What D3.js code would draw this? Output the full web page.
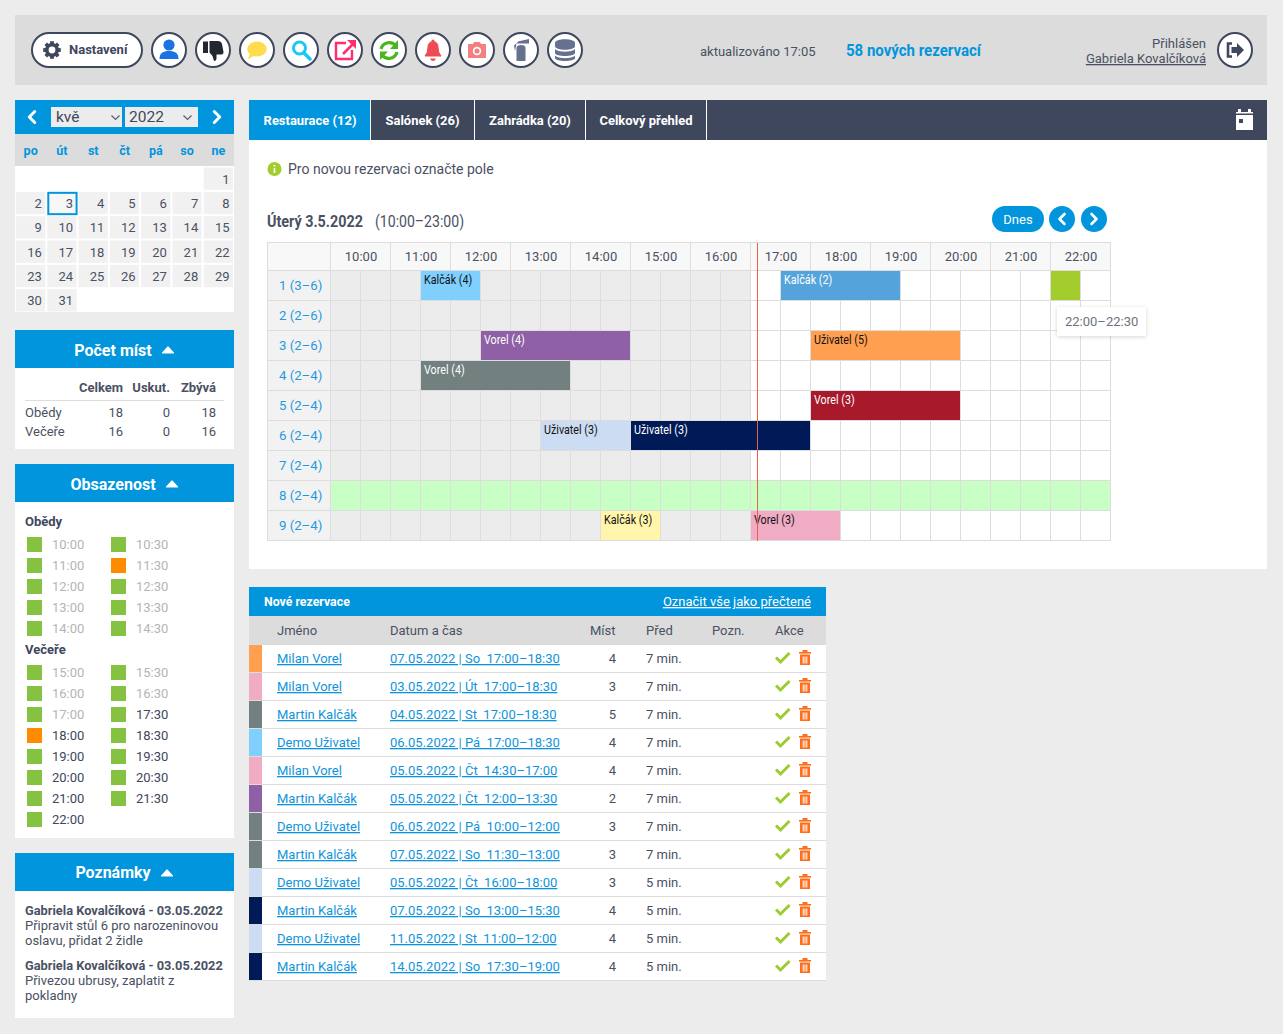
<!DOCTYPE html>
<html lang="cs"><head><meta charset="utf-8"><title>Rezervace</title>
<script src="https://cdnjs.cloudflare.com/ajax/libs/d3/7.8.5/d3.min.js"></script>
<style>html,body{margin:0;padding:0;background:#ececec;overflow:hidden}svg{display:block}text{font-family:Roboto,sans-serif;white-space:pre}</style>
</head><body><script>
// ---------- data ----------
const tabLabels=['Restaurace (12)','Salónek (26)','Zahrádka (20)','Celkový přehled'];
const weekdays=['po','út','st','čt','pá','so','ne'];
const monthDays=d3.range(1,32);
const firstDayOffset=6;
const selectedDay=3;
const seatCols=['Celkem','Uskut.','Zbývá'];
const seatRows=['Obědy','Večeře'];
const seatTotal=[18,16];
const seatDone=[0,0];
const seatLeft=[18,16];
const lunchSlots=['10:00','10:30','11:00','11:30','12:00','12:30','13:00','13:30','14:00','14:30'];
const dinnerSlots=['15:00','15:30','16:00','16:30','17:00','17:30','18:00','18:30','19:00','19:30','20:00','20:30','21:00','21:30','22:00'];
const busySlots=['11:30','18:00'];
const pastUntil='17:30';
const hourLabels=['10:00','11:00','12:00','13:00','14:00','15:00','16:00','17:00','18:00','19:00','20:00','21:00','22:00'];
const tableLabels=['1 (3–6)','2 (2–6)','3 (2–6)','4 (2–4)','5 (2–4)','6 (2–4)','7 (2–4)','8 (2–4)','9 (2–4)'];
const dayStart='10:00',dayEnd='23:00',pastEnd='17:00',nowTime='17:05';
const highlightedTable='8 (2–4)';
const resTable=['1 (3–6)','1 (3–6)','1 (3–6)','3 (2–6)','3 (2–6)','4 (2–4)','5 (2–4)','6 (2–4)','6 (2–4)','9 (2–4)','9 (2–4)'];
const resStart=['11:30','17:30','22:00','12:30','18:00','11:30','18:00','13:30','15:00','14:30','17:00'];
const resEnd=['12:30','19:30','22:30','15:00','20:30','14:00','20:30','15:00','18:00','15:30','18:30'];
const resLabel=['Kalčák (4)','Kalčák (2)','','Vorel (4)','Uživatel (5)','Vorel (4)','Vorel (3)','Uživatel (3)','Uživatel (3)','Kalčák (3)','Vorel (3)'];
const resKind=['sky','blue','lime','purple','orange','slate','crimson','pale','navy','yellow','pink'];
const newKind=['orange','pink','slate','sky','pink','purple','slate','slate','pale','navy','pale','navy'];
const newName=['Milan Vorel','Milan Vorel','Martin Kalčák','Demo Uživatel','Milan Vorel','Martin Kalčák','Demo Uživatel','Martin Kalčák','Demo Uživatel','Martin Kalčák','Demo Uživatel','Martin Kalčák'];
const newDate=['07.05.2022 | So  17:00–18:30','03.05.2022 | Út  17:00–18:30','04.05.2022 | St  17:00–18:30','06.05.2022 | Pá  17:00–18:30','05.05.2022 | Čt  14:30–17:00','05.05.2022 | Čt  12:00–13:30','06.05.2022 | Pá  10:00–12:00','07.05.2022 | So  11:30–13:00','05.05.2022 | Čt  16:00–18:00','07.05.2022 | So  13:00–15:30','11.05.2022 | St  11:00–12:00','14.05.2022 | So  17:30–19:00'];
const newSeats=[4,3,5,4,4,2,3,3,3,4,4,4];
const newAgo=['7 min.','7 min.','7 min.','7 min.','7 min.','7 min.','7 min.','7 min.','5 min.','5 min.','5 min.','5 min.'];
const newCols=['Jméno','Datum a čas','Míst','Před','Pozn.','Akce'];
const noteAuthor='Gabriela Kovalčíková - 03.05.2022';
const noteOne=['Připravit stůl 6 pro narozeninovou','oslavu, přidat 2 židle'];
const noteTwo=['Přivezou ubrusy, zaplatit z','pokladny'];

// ---------- style ----------
const DARK='#3e475c',BLUE='#0095dd',TXT='#4a5163',LINE='#dddddd';
const kindColor=d3.scaleOrdinal()
 .domain(['sky','blue','lime','purple','orange','slate','crimson','pale','navy','yellow','pink'])
 .range(['#7fcfff','#55a3db','#a2cd2c','#8f60a5','#ff9f4f','#728080','#a8192b','#ccdcf2','#001a57','#fff6ac','#f0abc5']);
const kindText=k=>['blue','purple','slate','crimson','navy'].includes(k)?'#fff':'#111';

const svg=d3.select('body').append('svg').attr('width',1283).attr('height',1034);
function R(x,y,w,h,f,g){return (g||svg).append('rect').attr('x',x).attr('y',y).attr('width',w).attr('height',h).attr('fill',f);}
function T(x,y,s,o={}){
 const e=(o.g||svg).append('text').text(s).attr('font-size',o.size||13).attr('fill',o.fill||TXT)
  .attr('font-weight',o.bold?700:400).attr('text-anchor',o.anchor||'start');
 if(o.sx) e.attr('transform',`translate(${x},${y}) scale(${o.sx},1)`); else e.attr('x',x).attr('y',y);
 if(o.u) e.attr('text-decoration','underline');
 return e;
}
function P(d,o={},g){const e=(g||svg).append('path').attr('d',d).attr('fill',o.fill||'none');
 if(o.stroke) e.attr('stroke',o.stroke).attr('stroke-width',o.w||2).attr('stroke-linecap',o.cap||'butt').attr('stroke-linejoin',o.join||'miter');return e;}
function chevron(cx,cy,dir,s,col,w){P(`M${cx-dir*s/2} ${cy-s} L${cx+dir*s/2} ${cy} L${cx-dir*s/2} ${cy+s}`,{stroke:col,w:w,cap:'round',join:'round'});}
function caret(cx,cy){P(`M${cx-5.5} ${cy+3} L${cx} ${cy-3} L${cx+5.5} ${cy+3}Z`,{fill:'#fff',stroke:'#fff',w:1.2,join:'round'});}

// ---------- top bar ----------
R(15,15,1252,70,'#dcdcdc');
svg.append('rect').attr('x',32).attr('y',33).attr('width',110).attr('height',34).attr('rx',17).attr('fill','#fff').attr('stroke',DARK).attr('stroke-width',2);
const gear=svg.append('g').attr('transform','translate(52,50)');
gear.append('circle').attr('r',5.2).attr('fill','none').attr('stroke',DARK).attr('stroke-width',3.6);
d3.range(8).forEach(i=>gear.append('rect').attr('x',-1.9).attr('y',-8.8).attr('width',3.8).attr('height',4).attr('fill',DARK).attr('transform',`rotate(${i*45})`));
T(69,54,'Nastavení',{bold:true,size:13,fill:DARK});
const iconX=d3.scaleLinear().domain([0,9]).range([169,565]);
d3.range(10).forEach(i=>svg.append('circle').attr('cx',iconX(i)).attr('cy',50).attr('r',17).attr('fill','#fff').attr('stroke',DARK).attr('stroke-width',2));
function icon(i,draw){const g=svg.append('g').attr('transform',`translate(${iconX(i)},50)`);draw(g);}
icon(0,g=>{g.append('circle').attr('cy',-5).attr('r',5.6).attr('fill','#1a73e0');P('M-9.5 9 C-9.5 3 -6 1 0 1 C6 1 9.5 3 9.5 9Z',{fill:'#1a73e0'},g);});
icon(1,g=>{P('M-10 -8.5 h5 v11.5 h-5Z',{fill:'#23272f'},g);P('M-3.5 -9 L5 -9 Q8 -9 9 -6 L10.5 2 Q10.5 4.5 8 4.5 L3.5 4.5 L3.5 8 Q3.5 11 1 11 L-0.5 6 L-3.5 2.5Z',{fill:'#23272f'},g);});
icon(2,g=>{g.append('ellipse').attr('cy',-1).attr('rx',9.8).attr('ry',7.6).attr('fill','#ffdc4e');P('M-7 3 L-9 9.5 L-2 5Z',{fill:'#ffdc4e'},g);});
icon(3,g=>{g.append('circle').attr('cx',-1.5).attr('cy',-2).attr('r',6).attr('fill','none').attr('stroke','#19c8f5').attr('stroke-width',3);P('M3 3 L9 9',{stroke:'#19c8f5',w:3.6,cap:'round'},g);});
icon(4,g=>{P('M1 -7 H-9 V9 H7 V0',{stroke:'#ff2e72',w:2.4},g);P('M-2 4 L8 -6',{stroke:'#ff2e72',w:2.6},g);P('M2 -10 H11 V-1Z',{fill:'#ff2e72'},g);});
icon(5,g=>{P('M-8 -1 A8.5 8.5 0 0 1 7 -4',{stroke:'#4ab51f',w:3.2},g);P('M9 -10 V-1 H1Z',{fill:'#4ab51f'},g);P('M8 2 A8.5 8.5 0 0 1 -7 5',{stroke:'#4ab51f',w:3.2},g);P('M-9 10 V1.5 H-1Z',{fill:'#4ab51f'},g);});
icon(6,g=>{P('M-8 6 Q-5 3 -5 -3 Q-5 -8 0 -8.5 Q5 -8 5 -3 Q5 3 8 6Z',{fill:'#ee4b55',stroke:'#ee4b55',w:1,join:'round'},g);g.append('circle').attr('cy',-9).attr('r',1.5).attr('fill','#ee4b55');P('M-3 8.5 H3 Q2 11 0 11 Q-2 11 -3 8.5Z',{fill:'#ee4b55'},g);});
icon(7,g=>{P('M-9 -6 H-4 L-3 -8 H3 L4 -6 H9 V8 H-9Z',{fill:'#f28080'},g);g.append('circle').attr('cy',1).attr('r',3.4).attr('fill','none').attr('stroke','#fff').attr('stroke-width',1.6);});
icon(8,g=>{P('M-4.5 -2 Q-4.5 -5 0 -5 Q4.5 -5 4.5 -2 V11 H-4.5Z',{fill:'#65718f'},g);P('M-7 -4.5 L-2 -9 H-1 L8 -11 V-6.5 L1 -6.5 H-4.5 L-6 1Z',{fill:'#65718f'},g);});
icon(9,g=>{P('M-10 -7 C-10 -12 10 -12 10 -7 V-4 C10 1 -10 1 -10 -4Z',{fill:'#65718f'},g);
 P('M-10 -1 C-7 2.5 7 2.5 10 -1 V3 C10 7 -10 7 -10 3Z',{fill:'#65718f'},g);
 P('M-10 5.5 C-7 9 7 9 10 5.5 V8 C10 12 -10 12 -10 8Z',{fill:'#65718f'},g);});
T(700,56,'aktualizováno 17:05',{size:13});
T(846,56,'58 nových rezervací',{size:16.5,bold:true,fill:BLUE,sx:.91});
T(1206,48,'Přihlášen',{size:13,anchor:'end'});
T(1206,63,'Gabriela Kovalčíková',{size:13,anchor:'end',u:true});
svg.append('circle').attr('cx',1235).attr('cy',50).attr('r',17).attr('fill','#fff').attr('stroke',DARK).attr('stroke-width',2);
P('M1232 43.5 H1228 V56.5 H1232',{stroke:DARK,w:2.6});
P('M1231.5 47 H1237 V43 L1244 50 L1237 57 V53 H1231.5Z',{fill:DARK});

// ---------- calendar ----------
R(15,100,219,34,BLUE);R(15,134,219,32,'#dcdcdc');R(15,166,219,146,'#fff');
chevron(32,117,-1,5.5,'#fff',3);chevron(217,117,1,5.5,'#fff',3);
R(51,107,71,20,'#ececec');R(125,107,73,20,'#ececec');
T(56,122,'kvě',{size:15.5,fill:DARK});T(129,122,'2022',{size:15.5,fill:DARK});
[115.5,187.5].forEach(x=>P(`M${x-4} 115.5 L${x} 119.5 L${x+4} 115.5`,{stroke:'#555d70',w:1.2}));
const calX=d3.scaleBand().domain(d3.range(7)).range([15,234]);
const calY=d3.scaleBand().domain(d3.range(6)).range([167,313]);
weekdays.forEach((d,i)=>T(calX(i)+calX.bandwidth()/2,155,d,{bold:true,size:12.5,fill:BLUE,anchor:'middle'}));
monthDays.forEach(d=>{
 const p=d-1+firstDayOffset,c=p%7,r=Math.floor(p/7);
 const today=d===selectedDay;
 const cell=svg.append('rect').attr('x',calX(c)+1).attr('y',calY(r)+.5).attr('width',calX.bandwidth()-2).attr('height',calY.bandwidth()-2).attr('fill','#f1f1f1');
 if(today) cell.attr('x',calX(c)+2).attr('y',calY(r)+1.5).attr('width',calX.bandwidth()-3).attr('height',calY.bandwidth()-3).attr('fill','#f7f7f7').attr('stroke',BLUE).attr('stroke-width',2);
 T(calX(c)+calX.bandwidth()-4.5,calY(r)+16.5,String(d),{size:13,anchor:'end'});
});

// ---------- panels ----------
function panelHead(y,label,caretX,by){R(15,y,219,38,BLUE);T(113,y+by,label,{size:16,bold:true,fill:'#fff',anchor:'middle'});caret(caretX,y+20);}
panelHead(330,'Počet míst',168,26);R(15,368,219,81,'#fff');
const seatRight=[123,170,216];
seatCols.forEach((c,i)=>T(seatRight[i],392,c,{bold:true,size:13,anchor:'end'}));
R(25,400,199,1,LINE);
const seatY=d3.scalePoint().domain(seatRows).range([417,436]);
seatRows.forEach((r,i)=>{T(25,seatY(r),r,{size:13});
 [seatTotal,seatDone,seatLeft].forEach((s,j)=>T(seatRight[j],seatY(r),String(s[i]),{size:13,anchor:'end'}));});

panelHead(464,'Obsazenost',172,26);R(15,502,219,336,'#fff');
T(25,526,'Obědy',{bold:true,size:13,fill:DARK});T(25,654,'Večeře',{bold:true,size:13,fill:DARK});
function slots(list,top){list.forEach((s,i)=>{const c=i%2,r=Math.floor(i/2),x=27+c*84,y=top+r*21;
 R(x,y,15,15,busySlots.includes(s)?'#ff8c00':'#85c241');
 T(x+25,y+11.5,s,{size:13,fill:s<pastUntil?'#b5b5b5':DARK});});}
slots(lunchSlots,537);slots(dinnerSlots,665);

panelHead(853,'Poznámky',167,25);R(15,891,219,127,'#fff');
T(25,915,noteAuthor,{bold:true,size:12.8});noteOne.forEach((l,i)=>T(25,930+15*i,l,{size:13}));
T(25,970,noteAuthor,{bold:true,size:12.8});noteTwo.forEach((l,i)=>T(25,985+15*i,l,{size:13}));

// ---------- main panel ----------
R(249,100,1018,40,DARK);R(249,140,1018,429,'#fff');
const tabEdges=[249,370,474,585,706];
tabLabels.forEach((t,i)=>{ if(i===0) R(tabEdges[0],100,tabEdges[1]-tabEdges[0],40,BLUE);
 R(tabEdges[i+1],100,1,40,'#fff');
 T((tabEdges[i]+tabEdges[i+1])/2+.5,125,t,{size:13.5,bold:true,fill:'#fff',anchor:'middle',sx:.96});});
R(1236,112,17,18,'#fff');R(1238,109,3,3,'#fff');R(1248,109,3,3,'#fff');R(1236,113.5,17,1.5,DARK);R(1239,119,4,4,DARK);
svg.append('circle').attr('cx',274.5).attr('cy',169).attr('r',7).attr('fill','#a2cd2c');
R(273.7,165,1.6,1.6,'#fff');R(273.7,168,1.6,5,'#fff');
T(288,174,'Pro novou rezervaci označte pole',{size:14});
T(267,227,'Úterý 3.5.2022',{size:16.5,bold:true,sx:.87});
T(375,227,'(10:00–23:00)',{size:16,sx:.88});
svg.append('rect').attr('x',992).attr('y',206).attr('width',52).attr('height',26).attr('rx',13).attr('fill',BLUE);
T(1018,223.5,'Dnes',{size:13,fill:'#fff',anchor:'middle'});
[1062,1094].forEach((cx,i)=>{svg.append('circle').attr('cx',cx).attr('cy',219).attr('r',13).attr('fill',BLUE);chevron(cx,219,i?1:-1,5,'#fff',2.6);});

// ---------- timeline (scales + axes) ----------
const tp=d3.timeParse('%H:%M');
const left=331,right=1111,top0=271,bottom=541;
const x=d3.scaleTime().domain([tp(dayStart),tp(dayEnd)]).range([left,right]);
const xHours=d3.scaleBand().domain(hourLabels).range([left,right]);
const y=d3.scaleBand().domain(tableLabels).range([top0,bottom]);
const chart=svg.append('g');
R(268,243,63,28,'#f8f8f8',chart);R(left,243,right-left,28,'#f8f8f8',chart);
R(268,top0,63,bottom-top0,'#f2f2f2',chart);
tableLabels.forEach(t=>{
 if(t===highlightedTable) R(left,y(t),right-left,y.bandwidth(),'#c8ffc4',chart);
 else R(left,y(t),x(tp(pastEnd))-left,y.bandwidth(),'#ececec',chart);
});
const halfHours=d3.timeMinute.every(30).range(tp(dayStart),tp(dayEnd));
chart.selectAll('.v').data(halfHours).join('line').attr('x1',d=>x(d)-.5).attr('x2',d=>x(d)-.5).attr('y1',top0).attr('y2',bottom).attr('stroke',LINE);
chart.selectAll('.vh').data(hourLabels.map(tp)).join('line').attr('x1',d=>x(d)-.5).attr('x2',d=>x(d)-.5).attr('y1',243).attr('y2',top0).attr('stroke',LINE);
chart.selectAll('.h').data(tableLabels).join('line').attr('x1',268).attr('x2',right).attr('y1',d=>y(d)-.5).attr('y2',d=>y(d)-.5).attr('stroke',LINE);
[[268,242.5,right,242.5],[268,bottom-.5,right,bottom-.5],[267.5,242,267.5,bottom],[right-.5,242,right-.5,bottom]].forEach(l=>chart.append('line').attr('x1',l[0]).attr('y1',l[1]).attr('x2',l[2]).attr('y2',l[3]).attr('stroke',LINE));
const axT=chart.append('g').attr('transform','translate(0,261)').call(d3.axisTop(xHours).tickSize(0).tickPadding(0));
axT.select('.domain').remove();
axT.selectAll('text').attr('font-size',13).attr('fill',TXT).attr('y',0).attr('dy',0);
const axL=chart.append('g').attr('transform','translate(279,-1)').call(d3.axisLeft(y).tickSize(0));
axL.select('.domain').remove();
axL.selectAll('text').attr('font-size',13.2).attr('fill','#1f9ade').attr('text-anchor','start').attr('x',0).attr('dy','0.36em');
const marks=chart.selectAll('.res').data(resTable.map((t,i)=>({t,s:tp(resStart[i]),e:tp(resEnd[i]),l:resLabel[i],k:resKind[i]}))).join('g');
marks.append('rect').attr('x',d=>x(d.s)).attr('y',d=>y(d.t)).attr('width',d=>x(d.e)-x(d.s)-1).attr('height',y.bandwidth()-1).attr('fill',d=>kindColor(d.k));
marks.append('text').text(d=>d.l).attr('font-size',12.5).attr('fill',d=>kindText(d.k)).attr('transform',d=>`translate(${x(d.s)+3},${y(d.t)+12.5}) scale(.86,1)`);
chart.append('line').attr('x1',x(tp(nowTime))+1.5).attr('x2',x(tp(nowTime))+1.5).attr('y1',243).attr('y2',bottom).attr('stroke','#e8604c').attr('stroke-width',1);
// tooltip
const defs=svg.append('defs');
const fl=defs.append('filter').attr('id','sh').attr('x','-20%').attr('y','-30%').attr('width','140%').attr('height','170%');
fl.append('feDropShadow').attr('dx',0).attr('dy',1).attr('stdDeviation',2).attr('flood-color','#000').attr('flood-opacity',.16);
R(1057,307,89,29,'#fff').attr('filter','url(#sh)');
T(1065,326,'22:00–22:30',{size:13,fill:'#6d7380'});

// ---------- new reservations ----------
R(249,587,577,29,BLUE);R(249,616,577,29,'#dcdcdc');R(249,645,577,336,'#fff');
T(264,606,'Nové rezervace',{size:13,bold:true,fill:'#fff',sx:.95});
T(811,606,'Označit vše jako přečtené',{size:13,fill:'#fff',anchor:'end',u:true});
const colX=[277,390,590,646,712,775];
newCols.forEach((c,i)=>T(colX[i],635,c,{size:13}));
const rowY=d3.scaleBand().domain(d3.range(newName.length)).range([645,981]);
newName.forEach((n,i)=>{
 const ry=rowY(i),cy=ry+13.5;
 R(249,ry,13,27,kindColor(newKind[i]));
 R(249,ry+27,577,1,LINE);
 T(277,cy+4.5,n,{size:13,fill:'#0f94dc',u:true});
 T(390,cy+4.5,newDate[i],{size:13,fill:'#0f94dc',u:true});
 T(616,cy+4.5,String(newSeats[i]),{size:13,anchor:'end'});
 T(646,cy+4.5,newAgo[i],{size:13});
 P(`M${776} ${cy-1} l4.5 4.5 l9 -9`,{stroke:'#9ccc2e',w:3});
 const tx=799,ty=cy-1;
 R(tx,ty-5.5,12,1.6,'#ff6e1a');R(tx+3.5,ty-7.5,5,2,'#ff6e1a');
 P(`M${tx+1} ${ty-3} H${tx+11} V${ty+7.5} H${tx+1}Z`,{fill:'#ff6e1a'});
 [3.7,5.5,7.3].forEach(o=>R(tx+o,ty-1,1,7,'#fff'));
});
</script></body></html>
